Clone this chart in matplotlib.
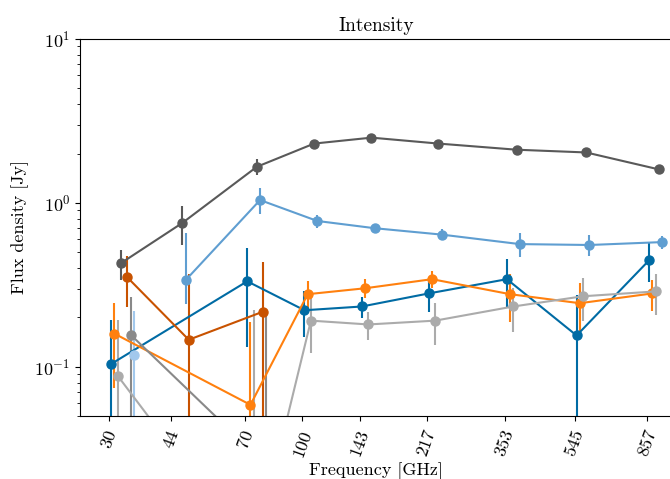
import numpy as np
import matplotlib
matplotlib.use("Agg")
import matplotlib.pyplot as plt
from matplotlib.ticker import FixedLocator, FixedFormatter, NullLocator

# --- данные ---
freqs = [30, 44, 70, 100, 143, 217, 353, 545, 857]
freq_labels = ["30", "44", "70", "100", "143", "217", "353", "545", "857"]

# None = нет точки на этой частоте
flux_0 = [0.104, None, 0.332, 0.221, 0.233, 0.280, 0.342, 0.155, 0.447]
err_0 = [0.09, None, 0.20, 0.07, 0.035, 0.065, 0.11, 0.12, 0.12]

flux_1 = [0.159, None, 0.0585, 0.277, 0.301, 0.342, 0.277, 0.244, 0.280]
err_1 = [0.085, None, 0.13, 0.055, 0.04, 0.04, 0.09, 0.08, 0.06]

flux_2 = [0.088, None, 0.007, 0.191, 0.181, 0.191, 0.233, 0.269, 0.288]
err_2 = [0.105, None, 0.215, 0.07, 0.035, 0.055, 0.07, 0.08, 0.08]

flux_3 = [0.428, 0.754, 1.66, 2.30, 2.50, 2.30, 2.11, 2.03, 1.60]
err_3 = [0.09, 0.20, 0.18, 0.05, 0.04, 0.04, 0.04, 0.04, 0.04]

flux_4 = [None, 0.337, 1.04, 0.775, 0.70, 0.64, 0.56, 0.553, 0.576]
err_4 = [None, (0.097, 0.318), 0.19, 0.07, 0.04, 0.05, 0.09, 0.08, 0.05]

flux_5 = [0.351, 0.146, 0.217, None, None, None, None, None, None]
err_5 = [0.12, 0.22, 0.22, None, None, None, None, None, None]

flux_6 = [0.157, None, 0.025, None, None, None, None, None, None]
err_6 = [0.11, None, 0.19, None, None, None, None, None, None]

flux_7 = [0.118, None, None, None, None, None, None, None, None]
err_7 = [0.10, None, None, None, None, None, None, None, None]

all_flux = [flux_0, flux_1, flux_2, flux_3, flux_4, flux_5, flux_6, flux_7]
all_err = [err_0, err_1, err_2, err_3, err_4, err_5, err_6, err_7]

plt.style.use("tableau-colorblind10")
plt.rcParams["font.family"] = "serif"
plt.rcParams["font.serif"] = ["cmr10"]
plt.rcParams["mathtext.fontset"] = "cm"
plt.rcParams["axes.formatter.use_mathtext"] = True
plt.rcParams["axes.unicode_minus"] = False

fig = plt.figure(figsize=(6.70, 4.79), dpi=100)
ax = fig.add_axes([80 / 670, 1 - 416 / 479, 592 / 670, 377 / 479])

for i, (flux, err) in enumerate(zip(all_flux, all_err)):
    shift = 10 ** ((2 + 3.2 * i) / 368.8)  # небольшой сдвиг по частоте, чтобы точки не перекрывались
    xs, ys, lo, hi = [], [], [], []
    for f, v, e in zip(freqs, flux, err):
        if v is None:
            continue
        xs.append(f * shift)
        ys.append(v)
        if isinstance(e, tuple):
            lo.append(e[0])
            hi.append(e[1])
        else:
            lo.append(e)
            hi.append(e)
    ax.errorbar(xs, ys, yerr=[lo, hi], fmt="-o", color=f"C{i}",
                lw=1.5, elinewidth=1.5, ms=6.5, capsize=0)

ax.set_xscale("log")
ax.set_yscale("log", nonpositive="clip")
ax.set_xlim(25, 1000)
ax.set_ylim(0.05, 10)

ax.xaxis.set_major_locator(FixedLocator(freqs))
ax.xaxis.set_major_formatter(FixedFormatter(freq_labels))
ax.xaxis.set_minor_locator(NullLocator())
ax.tick_params(labelsize=13)
ax.tick_params(axis="x", pad=5)
for lbl in ax.get_xticklabels():
    lbl.set_rotation(70)

ax.set_title("Intensity", fontsize=14)
ax.set_xlabel("Frequency [GHz]", fontsize=13, labelpad=3)
ax.set_ylabel("Flux density [Jy]", fontsize=13)

fig.savefig("out.png", dpi=100)
